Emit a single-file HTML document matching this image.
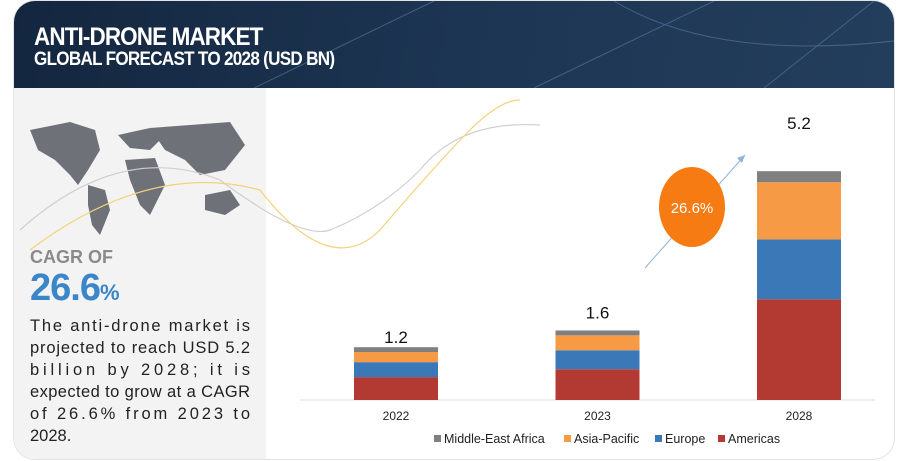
<!DOCTYPE html>
<html><head><meta charset="utf-8"><style>
body{margin:0;width:900px;height:461px;overflow:hidden;background:#fff;font-family:"Liberation Sans",sans-serif;}
#card{position:absolute;left:13px;top:0;width:880px;height:458px;border:1px solid #e3e3e3;border-radius:22px;overflow:hidden;background:#fff}
#hdr{position:absolute;left:0;top:0;width:880px;height:87px;background:linear-gradient(100deg,#14263f 0%,#1c3552 50%,#233e5c 100%)}
#left{position:absolute;left:0;top:87px;width:252px;height:371px;background:#f3f3f3}
.t1{position:absolute;left:20px;top:22px;color:#fff;font:bold 25px "Liberation Sans",sans-serif;letter-spacing:-1px;transform:scaleX(.9);transform-origin:left}
.t2{position:absolute;left:20px;top:48px;color:#fff;font:bold 19px "Liberation Sans",sans-serif;letter-spacing:-0.8px;transform:scaleX(.9);transform-origin:left}
</style></head><body>
<div id="card">
<div id="hdr">
<svg width="880" height="87" style="position:absolute;left:0;top:0"><g stroke="#5a7ea3" stroke-width="1" fill="none" opacity=".6"><path d="M240 87 L420 0"/><path d="M520 87 L700 0"/><path d="M600 0 Q700 60 880 40"/><path d="M750 87 L860 0"/></g></svg>
<div class="t1">ANTI-DRONE MARKET</div>
<div class="t2">GLOBAL FORECAST TO 2028 (USD BN)</div>
</div>
<div id="left"></div>
</div>
<svg width="900" height="461" style="position:absolute;left:0;top:0" id="chart">
<g fill="#6e7177">
<path d="M30 130 L70 122 L95 130 L100 150 L88 170 L78 185 L70 175 L55 160 L38 150Z"/>
<path d="M88 185 L105 190 L110 210 L100 235 L92 225 L88 205Z"/>
<path d="M118 135 L150 128 L160 140 L150 150 L130 148Z"/>
<path d="M125 160 L155 158 L165 185 L150 215 L140 205 L130 180Z"/>
<path d="M150 128 L230 122 L245 145 L225 170 L200 175 L185 160 L165 150Z"/>
<path d="M205 195 L230 190 L240 205 L225 215 L205 210Z"/>
</g>
<g fill="none" stroke-width="1.2">
<path d="M20 230 Q120 140 220 180 Q300 240 330 230 Q380 210 420 170 Q460 120 540 125" stroke="#cfcfcf"/>
<path d="M30 250 Q150 160 260 190 Q330 280 380 230 Q440 160 470 130 Q500 100 520 100" stroke="#f2d27a"/>
</g>
<text x="30" y="263" font-size="18" font-weight="bold" fill="#8a8a8a">CAGR OF</text>
<text x="30" y="300" font-size="38" font-weight="bold" fill="#3a86c8" letter-spacing="-1">26.6<tspan font-size="22">%</tspan></text>
<g font-size="16.5" fill="#222">
<text x="30" y="331" textLength="220">The anti-drone market is</text>
<text x="30" y="353" textLength="220">projected to reach USD 5.2</text>
<text x="30" y="375" textLength="220">billion by 2028; it is</text>
<text x="30" y="397" textLength="220">expected to grow at a CAGR</text>
<text x="30" y="419" textLength="220">of 26.6% from 2023 to</text>
<text x="30" y="441">2028.</text>
</g>
<line x1="300" y1="400" x2="875" y2="400" stroke="#dcdcdc"/>
<line x1="645" y1="268" x2="745" y2="155" stroke="#8fb3d9" stroke-width="1"/>
<path d="M745 155 L737 158 L742 163Z" fill="#8fb3d9"/>
<ellipse cx="692" cy="207" rx="33" ry="40" fill="#f57b12"/>
<text x="692" y="213" font-size="15" fill="#fff" text-anchor="middle">26.6%</text>
<g id="bars"></g>
<g id="legend"></g>
</svg>
<script>
const categories=["2022","2023","2028"];
const totals=["1.2","1.6","5.2"];
const americas=[0.52,0.70,2.29];
const europe=[0.34,0.43,1.36];
const asiaPacific=[0.23,0.34,1.30];
const middleEastAfrica=[0.11,0.11,0.25];
const seriesNames=["Middle-East Africa","Asia-Pacific","Europe","Americas"];
const NS="http://www.w3.org/2000/svg";
const base=400,scale=44,x0=354,step=201.5,bw=84;
const labelGaps=[4,12,42];
const xPos=i=>x0+i*step;
const yH=v=>v*scale;
const series=[[americas,"#b33a33","americas"],[europe,"#3a78b8","europe"],[asiaPacific,"#f79a46","asia-pacific"],[middleEastAfrica,"#7f7f7f","middle-east-africa"]];
const g=document.getElementById('bars');
categories.forEach((c,i)=>{
 let y=base;
 series.forEach(([arr,col,nm])=>{
  const h=yH(arr[i]);y-=h;
  const r=document.createElementNS(NS,'rect');
  r.setAttribute('x',xPos(i));r.setAttribute('y',y);r.setAttribute('width',bw);r.setAttribute('height',h);r.setAttribute('fill',col);
  
  
  g.appendChild(r);
 });
 const t=document.createElementNS(NS,'text');
 t.setAttribute('x',xPos(i)+bw/2);t.setAttribute('y',y-labelGaps[i]);t.setAttribute('text-anchor','middle');t.setAttribute('font-size','17');t.setAttribute('fill','#111');
 t.textContent=totals[i];
 
 
 g.appendChild(t);
 const l=document.createElementNS(NS,'text');
 l.setAttribute('x',xPos(i)+bw/2);l.setAttribute('y',420);l.setAttribute('text-anchor','middle');l.setAttribute('font-size','12');l.setAttribute('fill','#222');
 l.textContent=c;
 
 
 g.appendChild(l);
});
const lg=document.getElementById('legend');
const cols=["#7f7f7f","#f79a46","#3a78b8","#b33a33"];
const lx=[434,564,655,718];
seriesNames.forEach((n,i)=>{
 const r=document.createElementNS(NS,'rect');
 r.setAttribute('x',lx[i]);r.setAttribute('y',435);r.setAttribute('width',7);r.setAttribute('height',7);r.setAttribute('fill',cols[i]);
 
 
 lg.appendChild(r);
 const t=document.createElementNS(NS,'text');
 t.setAttribute('x',lx[i]+10);t.setAttribute('y',443);t.setAttribute('font-size','12.5');t.setAttribute('fill','#222');
 t.textContent=n;
 
 
 lg.appendChild(t);
});
</script>
</body></html>
